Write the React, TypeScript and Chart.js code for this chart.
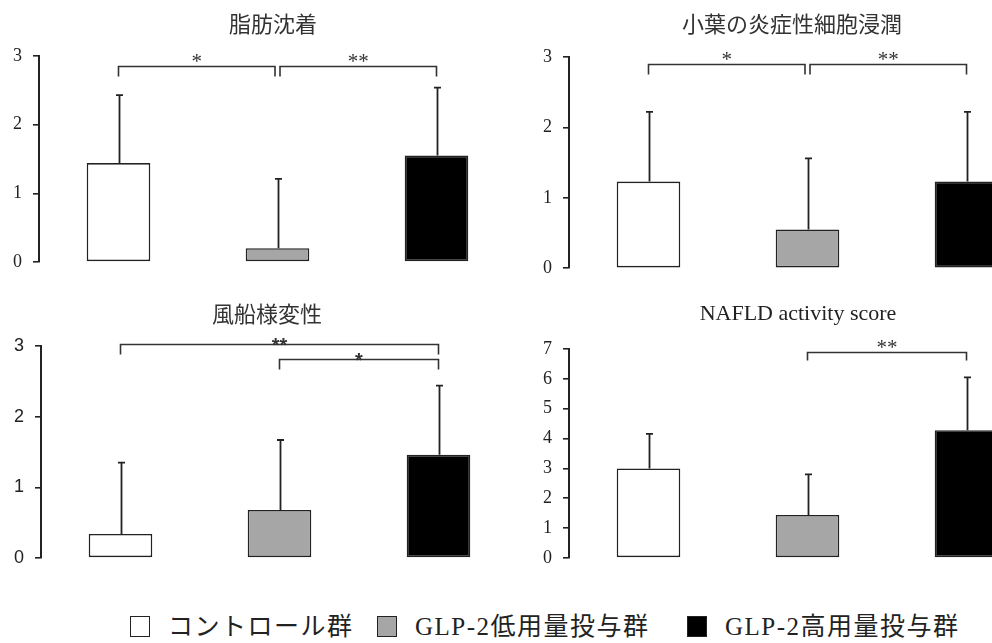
import React, { useEffect, useRef } from "react";
import { Chart, registerables } from "chart.js";
Chart.register(...registerables);

// ---- data ----
const groups = ["コントロール群", "GLP-2低用量投与群", "GLP-2高用量投与群"];
const groupColors = ["#ffffff", "#a6a6a6", "#000000"];

const titles = ["脂肪沈着", "小葉の炎症性細胞浸潤", "風船様変性", "NAFLD activity score"];
const yMaxes = [3, 3, 3, 7];

const fatMean = [1.44, 0.2, 1.55];
const fatSD = [0.99, 1.01, 0.99];
const fatBrackets = [
  { from: 0, to: 1, y: 2.86, label: "*" },
  { from: 1, to: 2, y: 2.86, label: "**" },
];

const inflMean = [1.23, 0.55, 1.23];
const inflSD = [0.99, 1.01, 0.99];
const inflBrackets = [
  { from: 0, to: 1, y: 2.9, label: "*" },
  { from: 1, to: 2, y: 2.9, label: "**" },
];

const balloonMean = [0.34, 0.68, 1.46];
const balloonSD = [1.01, 0.99, 0.98];
const balloonBrackets = [
  { from: 0, to: 2, y: 3.03, label: "**" },
  { from: 1, to: 2, y: 2.82, label: "*" },
];

const nasMean = [3.0, 1.44, 4.28];
const nasSD = [1.16, 1.36, 1.77];
const nasBrackets = [{ from: 1, to: 2, y: 6.9, label: "**" }];

type Bracket = { from: number; to: number; y: number; label: string };

const SERIF = "'Liberation Serif', 'DejaVu Serif', serif";
const SANS = "'Liberation Sans', 'DejaVu Sans', sans-serif";
const CJK = "'Noto Sans CJK JP', sans-serif";

function annotPlugin(means: number[], sds: number[], brackets: Bracket[], starFont: string, starShift: number, drop: number) {
  return {
    id: "annot",
    afterDatasetsDraw(chart: any) {
      const ctx = chart.ctx;
      const meta = chart.getDatasetMeta(0);
      const ys = chart.scales.y;
      ctx.save();
      ctx.strokeStyle = "#222";
      ctx.lineWidth = 1.8;
      meta.data.forEach((bar: any, i: number) => {
        const x = Math.round(bar.x) + 0.5;
        const top = ys.getPixelForValue(means[i] + sds[i]);
        ctx.beginPath();
        ctx.moveTo(x, bar.y);
        ctx.lineTo(x, top);
        ctx.moveTo(x - 3.5, top);
        ctx.lineTo(x + 3.5, top);
        ctx.stroke();
      });
      ctx.strokeStyle = "#333";
      ctx.lineWidth = 1.6;
      ctx.fillStyle = "#333";
      ctx.font = starFont;
      ctx.textAlign = "center";
      ctx.textBaseline = "alphabetic";
      brackets.forEach((b) => {
        let x1 = meta.data[b.from].x;
        let x2 = meta.data[b.to].x;
        if (brackets.some((o) => o !== b && o.to === b.from && Math.abs(o.y - b.y) < 0.05)) x1 += 2.5;
        if (brackets.some((o) => o !== b && o.from === b.to && Math.abs(o.y - b.y) < 0.05)) x2 -= 2.5;
        const y = Math.round(ys.getPixelForValue(b.y)) + 0.5;
        ctx.beginPath();
        ctx.moveTo(x1, y + drop);
        ctx.lineTo(x1, y);
        ctx.lineTo(x2, y);
        ctx.lineTo(x2, y + drop);
        ctx.stroke();
        ctx.fillText(b.label, (x1 + x2) / 2, y + starShift);
      });
      ctx.restore();
    },
  };
}

type PanelProps = {
  means: number[];
  sds: number[];
  brackets: Bracket[];
  yMax: number;
  left: number;
  top: number;
  width: number;
  height: number;
  pad: { top: number; bottom: number; right: number };
  tickFont: string;
  starFont: string;
  starShift: number;
  drop: number;
};

function Panel(p: PanelProps) {
  const ref = useRef<HTMLCanvasElement>(null);
  useEffect(() => {
    if (!ref.current) return;
    const chart = new Chart(ref.current, {
      type: "bar",
      data: {
        labels: groups,
        datasets: [
          {
            data: p.means,
            backgroundColor: groupColors,
            borderColor: "#222",
            borderWidth: 1.6,
            borderSkipped: false,
            categoryPercentage: 1,
            barPercentage: 0.4,
          },
        ],
      },
      options: {
        animation: false,
        responsive: false,
        maintainAspectRatio: false,
        layout: { padding: { left: 0, right: p.pad.right, top: p.pad.top, bottom: p.pad.bottom } },
        plugins: { legend: { display: false }, title: { display: false }, tooltip: { enabled: false } },
        scales: {
          x: { display: false, offset: true },
          y: {
            min: 0,
            max: p.yMax,
            afterFit: (s: any) => {
              s.width = 39;
            },
            ticks: { stepSize: 1, color: "#222", padding: 11, font: { family: p.tickFont, size: 18 } },
            grid: { drawOnChartArea: false, tickLength: 6, color: "#222", lineWidth: 1.6 },
            border: { display: true, color: "#222", width: 2 },
          },
        },
      },
      plugins: [annotPlugin(p.means, p.sds, p.brackets, p.starFont, p.starShift, p.drop)],
    } as any);
    return () => chart.destroy();
  }, []);
  return (
    <canvas
      ref={ref}
      width={p.width}
      height={p.height}
      style={{ position: "absolute", left: p.left, top: p.top, width: p.width, height: p.height }}
    />
  );
}

function Title({ text, x, y, font, size, color }: { text: string; x: number; y: number; font: string; size: number; color: string }) {
  return (
    <div
      style={{
        position: "absolute",
        left: x,
        top: y,
        transform: "translate(-50%, -50%)",
        fontFamily: font,
        fontSize: size,
        lineHeight: 1,
        color,
        whiteSpace: "pre",
      }}
    >
      {text}
    </div>
  );
}

export default function App() {
  const legendLefts = [130, 377, 687];
  return (
    <div
      style={{
        position: "absolute",
        left: 0,
        top: 0,
        width: 992,
        height: 643,
        overflow: "hidden",
        background: "#fff",
      }}
    >
      <Panel means={fatMean} sds={fatSD} brackets={fatBrackets} yMax={yMaxes[0]} left={0} top={0} width={530} height={290}
        pad={{ top: 56, bottom: 28, right: 14 }} tickFont={SERIF} starFont={`21px ${SERIF}`} starShift={1} drop={10} />
      <Panel means={inflMean} sds={inflSD} brackets={inflBrackets} yMax={yMaxes[1]} left={530} top={0} width={546} height={290}
        pad={{ top: 57, bottom: 21, right: 30 }} tickFont={SERIF} starFont={`21px ${SERIF}`} starShift={1} drop={10} />
      <Panel means={balloonMean} sds={balloonSD} brackets={balloonBrackets} yMax={yMaxes[2]} left={2} top={290} width={528} height={300}
        pad={{ top: 56, bottom: 32, right: 12 }} tickFont={SANS} starFont={`bold 20px ${SANS}`} starShift={7} drop={10} />
      <Panel means={nasMean} sds={nasSD} brackets={nasBrackets} yMax={yMaxes[3]} left={530} top={290} width={546} height={300}
        pad={{ top: 59, bottom: 32, right: 30 }} tickFont={SERIF} starFont={`21px ${SERIF}`} starShift={1} drop={8} />

      <Title text={titles[0]} x={273} y={22} font={CJK} size={22} color="#333" />
      <Title text={titles[1]} x={792} y={22} font={CJK} size={22} color="#333" />
      <Title text={titles[2]} x={267} y={312} font={CJK} size={22} color="#333" />
      <Title text={titles[3]} x={798} y={313} font={SERIF} size={22} color="#222" />

      {groups.map((g, i) => (
        <div
          key={g}
          style={{
            position: "absolute",
            left: legendLefts[i],
            top: 612,
            height: 28,
            display: "flex",
            alignItems: "center",
            gap: 18,
            whiteSpace: "nowrap",
          }}
        >
          <div
            style={{
              width: 20,
              height: 21,
              boxSizing: "border-box",
              background: groupColors[i],
              border: "1.5px solid #222",
            }}
          />
          <span style={{ fontFamily: `${SERIF.split(",")[0]}, ${CJK}`, fontSize: 25, letterSpacing: 1.5, color: "#222", lineHeight: 1 }}>{g}</span>
        </div>
      ))}
    </div>
  );
}
